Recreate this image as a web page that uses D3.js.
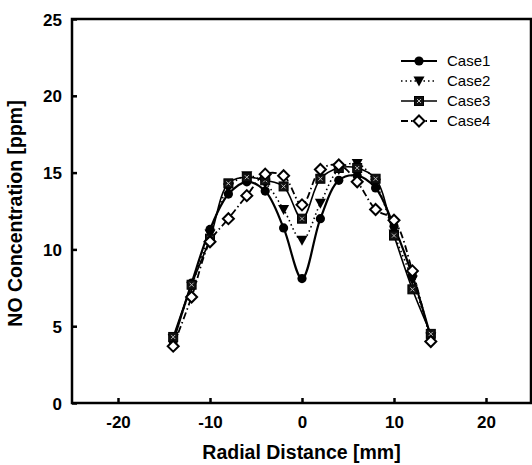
<!DOCTYPE html>
<html>
<head>
<meta charset="utf-8">
<script src="https://cdn.jsdelivr.net/npm/d3@7"></script>
<style>
  html, body { margin: 0; padding: 0; background: #fff; }
  svg { display: block; }
  text { font-family: "Liberation Sans", Arial, sans-serif; fill: #000; }
</style>
</head>
<body>
<svg id="chart" width="532" height="465"></svg>
<script>
// ---- data ----
const radial = [-14, -12, -10, -8, -6, -4, -2, 0, 2, 4, 6, 8, 10, 12, 14];
const case1 = [4.0, 7.8, 11.3, 13.6, 14.4, 13.8, 11.4, 8.1, 12.0, 14.5, 14.8, 14.0, 11.5, 8.3, 4.3];
const case2 = [4.2, 7.6, 11.0, 14.0, 14.8, 14.3, 12.6, 10.6, 13.0, 15.2, 15.6, 14.3, 11.0, 8.0, 4.3];
const case3 = [4.3, 7.7, 10.7, 14.3, 14.7, 14.5, 14.1, 12.0, 14.6, 15.3, 15.3, 14.6, 10.9, 7.4, 4.5];
const case4 = [3.7, 6.9, 10.5, 12.0, 13.5, 14.9, 14.8, 12.9, 15.2, 15.5, 14.4, 12.6, 11.9, 8.6, 4.0];
const seriesNames = ["Case1", "Case2", "Case3", "Case4"];
const xTicks = [-20, -10, 0, 10, 20];
const yTicks = [0, 5, 10, 15, 20, 25];
const xTitle = "Radial Distance [mm]";
const yTitle = "NO Concentration [ppm]";

// ---- layout ----
const svg = d3.select("#chart");
const pL = 72, pR = 531, pT = 19, pB = 403;
const x = d3.scaleLinear().domain([-25, 25]).range([pL, pR + 1]);
const y = d3.scaleLinear().domain([0, 25]).range([pB, pT]);

// frame
svg.append("rect").attr("x", pL).attr("y", pT)
  .attr("width", pR - pL).attr("height", pB - pT)
  .attr("fill", "none").attr("stroke", "#000").attr("stroke-width", 2.5);

// axes (inward ticks)
const fmt = d => String(d);
const xAxis = svg.append("g").attr("transform", `translate(0,${pB})`)
  .call(d3.axisBottom(x).tickValues(xTicks).tickSizeInner(-5).tickSizeOuter(0).tickPadding(13).tickFormat(fmt));
const yAxis = svg.append("g").attr("transform", `translate(${pL},0)`)
  .call(d3.axisLeft(y).tickValues(yTicks).tickSizeInner(-5).tickSizeOuter(0).tickPadding(10).tickFormat(fmt));
[xAxis, yAxis].forEach(a => {
  a.select(".domain").remove();
  a.selectAll(".tick line").attr("stroke", "#000").attr("stroke-width", 2.5);
  a.selectAll(".tick text").style("font-size", "17px").style("font-weight", "bold")
    .style("font-family", "'Liberation Sans', Arial, sans-serif");
});
yAxis.selectAll(".tick text").attr("dy", "0.36em");

// titles
svg.append("text").attr("x", (pL + pR) / 2).attr("y", 459)
  .attr("text-anchor", "middle").style("font-size", "19.5px").style("font-weight", "bold").text(xTitle);
svg.append("text").attr("transform", `translate(22,213.5) rotate(-90)`)
  .attr("text-anchor", "middle").style("font-size", "19.5px").style("font-weight", "bold").text(yTitle);

// ---- series ----
const styles = [
  { data: case1, dash: null, width: 2.2, marker: "circle" },
  { data: case2, dash: "1.5,3", width: 1.6, marker: "triangle" },
  { data: case3, dash: null, width: 1.6, marker: "square" },
  { data: case4, dash: "7,3,1.5,3", width: 1.8, marker: "diamond" }
];
const line = d3.line().x((d, i) => x(radial[i])).y(d => y(d)).curve(d3.curveCatmullRom.alpha(0.5));

function drawMarker(g, type, cx, cy) {
  if (type === "circle") {
    g.append("circle").attr("cx", cx).attr("cy", cy).attr("r", 4.6).attr("fill", "#000");
  } else if (type === "triangle") {
    g.append("path").attr("d", `M${cx - 5.5},${cy - 4.5}L${cx + 5.5},${cy - 4.5}L${cx},${cy + 5.5}Z`).attr("fill", "#000");
  } else if (type === "square") {
    g.append("rect").attr("x", cx - 4.5).attr("y", cy - 4.5).attr("width", 9).attr("height", 9)
      .attr("fill", "#111").attr("stroke", "#000").attr("stroke-width", 1);
    g.append("path").attr("d", `M${cx - 2},${cy - 2}L${cx + 2},${cy + 2}M${cx + 2},${cy - 2}L${cx - 2},${cy + 2}`)
      .attr("stroke", "#bbb").attr("stroke-width", 1);
  } else if (type === "diamond") {
    g.append("path").attr("d", `M${cx},${cy - 5.5}L${cx + 5.5},${cy}L${cx},${cy + 5.5}L${cx - 5.5},${cy}Z`)
      .attr("fill", "#fff").attr("stroke", "#000").attr("stroke-width", 2);
  }
}

styles.forEach(s => {
  svg.append("path").datum(s.data).attr("d", line)
    .attr("fill", "none").attr("stroke", "#000").attr("stroke-width", s.width)
    .attr("stroke-dasharray", s.dash);
});
styles.forEach(s => {
  const g = svg.append("g");
  s.data.forEach((v, i) => drawMarker(g, s.marker, x(radial[i]), y(v)));
});

// ---- legend ----
const legY = [61, 81, 101, 121];
seriesNames.forEach((name, i) => {
  const s = styles[i];
  const g = svg.append("g");
  g.append("line").attr("x1", 401).attr("x2", 437).attr("y1", legY[i]).attr("y2", legY[i])
    .attr("stroke", "#000").attr("stroke-width", s.width).attr("stroke-dasharray", s.dash);
  drawMarker(g, s.marker, 419, legY[i]);
  g.append("text").attr("x", 447).attr("y", legY[i]).attr("dy", "0.36em")
    .style("font-size", "15px").text(name);
});
</script>
</body>
</html>
